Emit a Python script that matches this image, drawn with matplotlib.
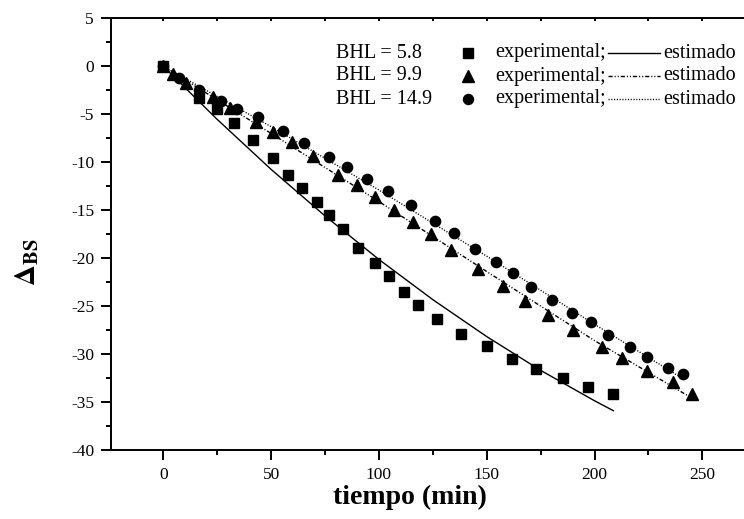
import matplotlib
matplotlib.use("Agg")
import matplotlib.pyplot as plt
from matplotlib.lines import Line2D

plt.rcParams['font.family'] = ['Liberation Serif', 'DejaVu Serif']
plt.rcParams['mathtext.fontset'] = 'stix'
plt.rcParams['axes.unicode_minus'] = False

# ---- data ----
t_58 = [0, 16.7, 25.0, 32.8, 41.7, 50.7, 58.0, 64.2, 71.2, 77.0, 83.5, 90.4, 98.2,
        104.7, 111.6, 118.3, 127.1, 137.9, 150.1, 161.9, 172.7, 185.4, 197.1, 208.7]
d_58 = [0, -3.3, -4.5, -5.9, -7.7, -9.6, -11.3, -12.7, -14.1, -15.5, -17.0, -18.9, -20.5,
        -21.9, -23.5, -24.9, -26.3, -27.9, -29.2, -30.5, -31.6, -32.5, -33.4, -34.2]

t_99 = [0, 4.6, 10.5, 23.2, 30.9, 43.0, 50.7, 59.6, 69.3, 81.2, 89.8, 98.0, 107.1,
        116.0, 124.0, 133.6, 145.8, 157.7, 167.8, 178.2, 190.2, 203.3, 212.9, 224.3,
        236.3, 245.2]
d_99 = [0, -0.8, -1.7, -3.2, -4.4, -5.8, -6.8, -7.9, -9.4, -11.3, -12.4, -13.6, -15.0,
        -16.2, -17.5, -19.2, -21.1, -22.9, -24.5, -25.9, -27.5, -29.3, -30.4, -31.8,
        -32.9, -34.2]

t_149 = [0, 7.3, 16.7, 26.6, 34.0, 44.1, 55.4, 65.3, 76.7, 85.1, 94.5, 104.0, 114.9,
         125.8, 134.8, 144.7, 154.3, 162.0, 170.4, 180.3, 189.7, 198.2, 206.4, 216.2,
         224.5, 234.2, 241.2]
d_149 = [0, -1.2, -2.5, -3.6, -4.5, -5.3, -6.7, -8.0, -9.5, -10.5, -11.7, -13.0, -14.5,
         -16.1, -17.4, -19.0, -20.4, -21.5, -23.0, -24.4, -25.7, -26.7, -28.0, -29.3,
         -30.3, -31.5, -32.1]

# estimated (model) curves
te_58 = [0, 25, 50, 75, 100, 125, 150, 175, 200, 208.7]
de_58 = [0, -5.54, -10.75, -15.6, -20.14, -24.33, -28.18, -31.7, -34.87, -35.9]

te_99 = [0, 50, 100, 150, 200, 245.2]
de_99 = [0, -7.0, -14.1, -21.4, -28.6, -34.6]

te_149 = [0, 50, 100, 150, 200, 241.2]
de_149 = [0, -6.3, -12.9, -19.8, -26.9, -32.6]

legend_labels = ["BHL = 5.8", "BHL = 9.9", "BHL = 14.9"]

# ---- figure ----
W, H = 744, 519
fig = plt.figure(figsize=(W / 100, H / 100), dpi=100)
L, R, T, B = 110.7, 744, 18.3, 450
ax = fig.add_axes([L / W, 1 - B / H, (R - L) / W, (B - T) / H])

ls_dashdotdot = (0, (3.0, 1.4, 0.8, 1.4, 0.8, 1.4))
ls_dot = (0, (0.8, 1.2))

ax.plot(te_58, de_58, color='black', lw=1.0, ls='-')
ax.plot(te_99, de_99, color='black', lw=1.0, ls=ls_dashdotdot)
ax.plot(te_149, de_149, color='black', lw=1.0, ls=ls_dot)

ax.plot(t_58, d_58, ls='none', marker='s', ms=7.2, color='black')
ax.plot(t_99, d_99, ls='none', marker='^', ms=8.3, color='black')
ax.plot(t_149, d_149, ls='none', marker='o', ms=7.4, color='black')

ax.set_xlim(-24.4, 269.3)
ax.set_ylim(-40, 5)
ax.set_xticks([0, 50, 100, 150, 200, 250])
ax.set_xticks([25, 75, 125, 175, 225], minor=True)
ax.set_yticks(range(-40, 6, 5))
ax.set_yticks([v + 2.5 for v in range(-40, 5, 5)], minor=True)

for s in ['left', 'bottom', 'top']:
    ax.spines[s].set_linewidth(1.4)
ax.spines['right'].set_visible(False)

ax.tick_params(axis='both', which='major', direction='out', length=7, width=1.4,
               labelsize=12.5, pad=5)
ax.tick_params(axis='both', which='minor', direction='out', length=3.5, width=1.4)
ax.tick_params(axis='x', which='both', top=True, labeltop=False)
for tk in ax.xaxis.get_major_ticks() + ax.xaxis.get_minor_ticks():
    tk.tick2line.set_markersize(2.5)
    tk.tick2line.set_marker(3)  # TICKDOWN (inward on top)

fig.text(410 / W, 1 - 497 / H, "tiempo (min)", fontsize=20, fontweight='bold',
         ha='center', va='center')
fig.text(28 / W, 1 - 262 / H, r'$\mathbf{\Delta}_{\mathbf{BS}}$', fontsize=21,
         ha='center', va='center', rotation=90)

# ---- legend drawn as text rows ----
rows_y = [53, 76, 99]
markers = ['s', '^', 'o']
msz = [7.0, 8.0, 7.2]
lstyles = ['-', ls_dashdotdot, ls_dot]
for i in range(3):
    yf = 1 - rows_y[i] / H
    fig.text(336 / W, yf, legend_labels[i], fontsize=14.5, ha='left', va='center')
    fig.add_artist(Line2D([468 / W], [yf], marker=markers[i], ms=msz[i], color='black',
                          ls='none', transform=fig.transFigure))
    fig.text(495 / W, yf, "experimental;", fontsize=14.5, ha='left', va='center')
    fig.add_artist(Line2D([608 / W, 660 / W], [yf, yf], color='black', lw=1.0,
                          ls=lstyles[i], transform=fig.transFigure))
    fig.text(663 / W, yf, "estimado", fontsize=14.5, ha='left', va='center')

fig.savefig("out.png", dpi=100)
